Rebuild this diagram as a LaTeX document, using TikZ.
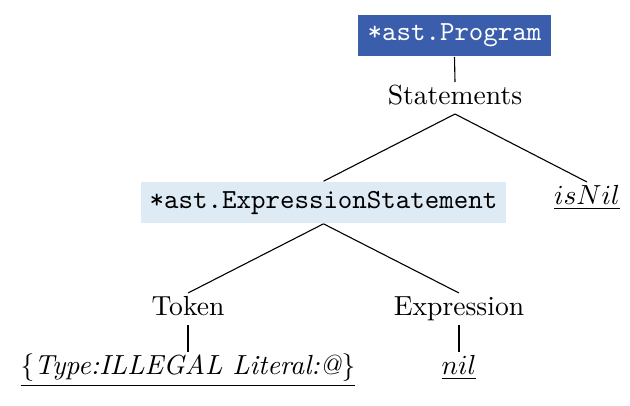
\documentclass[tikz,border=0pt]{standalone}
\usepackage{xcolor}

\definecolor{progblue}{HTML}{3A5DAC}
\definecolor{stmtblue}{HTML}{DEEAF4}

\tikzset{
    typebox/.style={font=\ttfamily, inner sep=3.3pt},
    leaf/.style={inner sep=1pt, text height=7pt, text depth=2.2pt},
    edge/.style={draw, thin}
}

\begin{document}
\begin{tikzpicture}[x=0.3623pt, y=-0.3623pt]
        \useasboundingbox (0,0) rectangle (630,405);

        \node[typebox, fill=progblue, text=white] (program) at (454.5,35.5) {*ast.Program};
        \node[leaf] (statements) at (455,98) {Statements};

        \node[typebox, fill=stmtblue] (exprstmt) at (323.5,202.5) {*ast.ExpressionStatement};
        \node[leaf] (isnil) at (587,198) {$\underline{isNil}$};

        \node[leaf] (token) at (188,309) {Token};
        \node[leaf] (expression) at (459,309) {Expression};

        \node[leaf] (literal) at (188,368) {\underline{$\{$\textit{Type:ILLEGAL Literal:@}$\}$}};
        \node[leaf] (nil) at (459,368) {$\underline{nil}$};

        % tree edges
        \draw[edge] (program.south) -- (statements.north);
        \draw[edge] (statements.south) -- (exprstmt.north);
        \draw[edge] (statements.south) -- (isnil.north);
        \draw[edge] (exprstmt.south) -- (token.north);
        \draw[edge] (exprstmt.south) -- (expression.north);
        \draw[edge] (token.south) -- (literal.north);
        \draw[edge] (expression.south) -- (nil.north);
    
    \end{tikzpicture}
\end{document}
